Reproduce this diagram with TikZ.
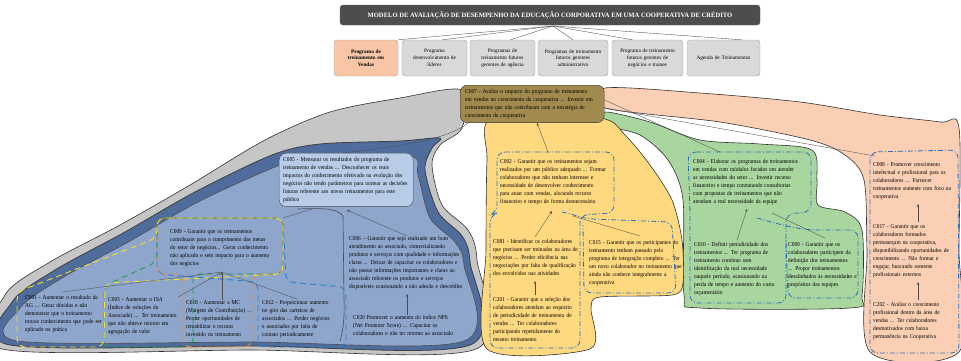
\documentclass[tikz,border=0pt]{standalone}
\usepackage{fontspec}
\setmainfont{Liberation Serif}
\newfontfamily\nf[FakeStretch=0.9]{Liberation Serif}
\usetikzlibrary{arrows.meta}
\definecolor{titlegray}{HTML}{4D4D4D}
\definecolor{boxgray}{HTML}{D9D9D9}
\definecolor{boxsalmon}{HTML}{F8C6A6}
\definecolor{olive}{HTML}{A08A4E}
\definecolor{blobgray}{HTML}{C6C6C6}
\definecolor{blueout}{HTML}{4E6C9C}
\definecolor{bluein}{HTML}{8FA6CC}
\definecolor{bluelight}{HTML}{B8CCE8}
\definecolor{yel}{HTML}{FFD97F}
\definecolor{grn}{HTML}{A8D69E}
\definecolor{sal}{HTML}{FBCFB4}
\definecolor{dashblue}{HTML}{2A6FC0}
\definecolor{dyel}{HTML}{F2E12A}
\definecolor{dgrn}{HTML}{1FA04A}
\definecolor{dora}{HTML}{F08A3A}
\definecolor{dblu}{HTML}{2A80D0}
\newcommand\jl[1]{\makebox[\hsize][s]{#1}\\}
\begin{document}
\begin{tikzpicture}[x=1pt,y=-1pt,
  txt/.style={font=\nf\fontsize{6}{8}\selectfont, align=left, inner sep=0pt, text width=#1, anchor=north west},
  topbox/.style={draw=gray!70, fill=boxgray, rounded corners=3pt, minimum height=36pt, inner sep=2pt, font=\fontsize{5.3}{6.8}\selectfont, align=center},
  blob/.style={draw=black!80, line width=0.6pt},
  conn/.style={draw=black!70, line width=0.35pt},
  arr/.style={conn, -{Stealth[length=3pt,width=2.5pt]}},
  dd/.style={draw=dashblue, line width=0.8pt, dash pattern=on 5pt off 2pt on 1pt off 2pt, rounded corners=8pt},
  grp/.style={line width=0.9pt, dash pattern=on 6pt off 4pt, rounded corners=8pt}
]
\useasboundingbox (0,0) rectangle (961,360);
\fill[white] (0,0) rectangle (961,360);
% title
\node[fill=titlegray, draw=black!60, rounded corners=3pt, minimum width=420pt, minimum height=20pt, text=white, font=\fontsize{6.6}{7.5}\selectfont\bfseries] (title) at (550,15) {MODELO DE AVALIAÇÃO DE DESEMPENHO DA EDUCAÇÃO CORPORATIVA EM UMA COOPERATIVA DE CRÉDITO};
\coordinate (hub) at (553,26);
\node[topbox, fill=boxsalmon, minimum width=64pt, text width=56pt, font=\fontsize{5.3}{6.8}\selectfont\bfseries] (b1) at (366,58) {Programa de\\ treinamento em\\ Vendas};
\node[topbox, minimum width=65pt, text width=60pt] (b2) at (434.5,58) {Programa\\ desenvolvimento de\\ líderes};
\node[topbox, minimum width=65pt, text width=60pt] (b3) at (502.5,58) {Programas de\\ treinamento futuros\\ gerentes de agência};
\node[topbox, minimum width=70pt, text width=66pt] (b4) at (573,58) {Programas de treinamento\\ futuros gerentes\\ administrativo};
\node[topbox, minimum width=71pt, text width=67pt] (b5) at (647.5,58) {Programa de treinamento\\ futuros gerentes de\\ negócios e trainee};
\node[topbox, minimum width=73pt, text width=68pt] (b6) at (723.5,58) {Agenda de Treinamentos};
\draw[conn] (hub) -- (b1.north east);
\draw[conn] (hub) -- ([xshift=8pt]b2.north);
\draw[conn] (hub) -- ([xshift=8pt]b3.north);
\draw[conn] (hub) -- (b4.north);
\draw[conn] (hub) -- ([xshift=-15pt]b5.north);
\draw[conn] (hub) -- ([xshift=18pt]b6.north);

% blobs
\draw[blob, fill=blobgray] plot[smooth cycle, tension=0.5] coordinates {(462,90) (400,98) (330,112) (265,140) (190,185) (120,225) (50,262) (5,295) (2,349) (250,350) (476,349) (477,260) (468,230) (442,205) (432,165) (440,145) (462,128)};
\draw[blob, fill=blueout, draw=black!75, line width=0.8pt] plot[smooth cycle, tension=0.5] coordinates {(440,138) (400,141) (320,144) (272,155) (195,192) (125,232) (55,270) (12,302) (10,345) (250,346) (470,345) (470,262) (462,236) (438,212) (425,170) (432,148)};
\draw[blob, fill=bluein, draw=black!70] plot[smooth cycle, tension=0.5] coordinates {(410,156) (320,155) (280,165) (200,201) (130,241) (62,278) (20,308) (18,341) (250,342) (464,341) (464,265) (455,242) (430,218) (418,175)};
\draw[blob, draw=black!70, line width=0.6pt] (298,209) .. controls (320,208) and (338,208) .. (343,216) -- (344,300) .. controls (345,320) and (342,335) .. (340,341);
\draw[blob, fill=sal] plot[smooth cycle, tension=0.5] coordinates {(605,88) (700,93) (800,102) (880,115) (940,122) (959,128) (959,250) (959,352) (870,352) (867,250) (864,180) (845,155) (810,140) (720,122) (605,108)};
\draw[blob, fill=grn] plot[smooth cycle, tension=0.5] coordinates {(605,112) (650,122) (700,140) (760,144) (812,150) (817,180) (818,205) (845,212) (862,230) (862,295) (850,308) (700,308) (684,295) (683,200) (668,160) (640,135) (605,125)};
\draw[blob, fill=yel] plot[smooth cycle, tension=0.45] coordinates {(492,118) (600,118) (625,135) (650,165) (672,200) (682,240) (683,283) (672,295) (600,297) (591,308) (590,349) (487,349) (486,250) (487,160)};

% C007
\node[draw=black!80, fill=olive, rounded corners=7pt, txt=134, inner xsep=5pt, inner ysep=4pt] (c007) at (460,85) {\jl{C007 - Avaliar o impacto do programa de treinamento}\jl{em vendas no crescimento da cooperativa ... Investir em}\jl{treinamentos que não contribuam com a estratégia de}crescimento da cooperativa};

% gray/blue branch
\node[draw=black!70, fill=bluelight, rounded corners=7pt, txt=126, inner sep=4pt] (c005) at (279,153) {\jl{C005 - Mensurar os resultados do programa de}\jl{treinamento de vendas ... Desconhecer os reais}\jl{impactos do conhecimento efetivado na evolução dos}\jl{negócios não tendo parâmetros para nortear as decisões}\jl{futuras referente aos novos treinamentos para este}público};
\node[txt=114] (c006) at (349,236) {\jl{C006 – Garantir que seja realizado um bom}\jl{atendimento ao associado, comercializando}\jl{produtos e serviços com qualidade e informações}\jl{claras ... Deixar de capacitar os colaboradores e}\jl{não passar informações importantes e claras ao}\jl{associado referente os produtos e serviços}disponíveis ocasionando a não adesão e descrédito};
\node[txt=113] (c020) at (353,315) {\jl{C020 Promover o aumento do índice NPS}\jl{(Net Promoter Score) ... Capacitar os}\jl{colaboradores e não ter retorno ao associado}};
\node[txt=86] (c009) at (170,229) {\jl{C009 - Garantir que os treinamentos}\jl{contribuam para o cumprimento das metas}\jl{do setor de negócios... Gerar conhecimento}\jl{não aplicado e sem impacto para o aumento}dos negócios};
\node[txt=78] (c001) at (25,295) {\jl{C001 - Aumentar o resultado da}\jl{AG ... Gerar dúvidas e não}\jl{demonstrar que o treinamento}\jl{trouxe conhecimento que pode ser}aplicado na prática};
\node[txt=72] (c003) at (108,297) {\jl{C003 - Aumentar o ISA}\jl{(Índice de soluções do}\jl{Associado) ... Ter treinamento}\jl{que não obteve retorno em}agregação de valor};
\node[txt=66] (c018) at (186,300) {\jl{C018 - Aumentar a MC}\jl{(Margem de Contribuição) ...}\jl{Perder oportunidades de}\jl{rentabilizar o recurso}investido no treinamento};
\node[txt=72] (c012) at (262,300) {\jl{C012 - Proporcionar aumento}\jl{no giro das carteiras de}\jl{associados ... Perder negócios}\jl{e associados por falta de}contato periodicamente};
% group outlines
\draw[grp, draw=dblu] (157,218) -- (283,218) -- (286,282) -- (346,287) -- (346,347) -- (258,347) -- (258,282) -- (157,274) -- cycle;
\draw[grp, draw=dgrn, dash phase=3pt] (157,218) -- (283,218) -- (283,274) -- (193,274) -- (193,347) -- (104,347) -- (104,286) -- (157,262) -- cycle;
\draw[grp, draw=dora, dash phase=6pt] (157,218) -- (283,218) -- (283,274) -- (252,274) -- (252,347) -- (183,347) -- (183,274) -- (157,274) -- cycle;
\draw[grp, draw=dyel, dash phase=9pt] (157,218) -- (283,218) -- (283,274) -- (105,283) -- (104,347) -- (17,347) -- (17,292) -- (157,238) -- cycle;
\coordinate (h9) at (222,272);
\draw[arr] (c018.north -| h9) -- (h9);
\draw[conn] (62,292) -- (h9);
\draw[conn] (178,297) -- (h9);
\draw[conn] (297,299) -- (h9);
\draw[conn] (283,218) -- (312,209);
\draw[arr] (407,236) -- (347,210);
\draw[arr] (c020.north -| 407,0) -- (407,294);
\draw[conn] (343,153) .. controls (410,145) and (450,138) .. (468,123);

% yellow branch
\node[txt=110] (c002) at (500,159) {\jl{C002 - Garantir que os treinamentos sejam}\jl{realizados por um público adequado ... Formar}\jl{colaboradores que não tenham interesse e}\jl{necessidade de desenvolver conhecimento}\jl{para atuar com vendas, alocando recurso}financeiro e tempo de forma desnecessária};
\node[txt=87] (c081) at (493,239) {\jl{C081 - Identificar os colaboradores}\jl{que precisam ser treinados na área de}\jl{negócios ... Perder eficiência nas}\jl{negociações por falta de qualificação}dos envolvidos nas atividades};
\node[txt=80] (c015) at (589,240) {\jl{C015 - Garantir que os participantes do}\jl{treinamento tenham passado pelo}\jl{programa de integração completo ... Ter}\jl{um novo colaborador no treinamento que}\jl{ainda não conhece integralmente a}cooperativa};
\node[txt=87] (c201) at (493,297) {\jl{C201 - Garantir que a seleção dos}\jl{colaboradores atendam ao requisito}\jl{de periodicidade de treinamento de}\jl{vendas ... Ter colaboradores}\jl{participando repetidamente do}mesmo treinamento};
\draw[dd] (497,152) -- (614,152) -- (614,213) -- (580,215) -- (580,348) -- (490,348) -- (490,215) -- (497,213) -- cycle;
\draw[dd] (562,212) .. controls (572,214) and (580,217) .. (590,219) -- (672,222) -- (676,293) -- (584,293) -- (583,225);
\draw[arr] (548,152) -- (537,123);
\draw[arr] (535,237) -- (552,211);
\draw[conn] (640,236) -- (573,216);
\draw[arr] (535,295) -- (535,281);

% green branch
\node[txt=108] (c004) at (693,159) {\jl{C004 - Elaborar os programas de treinamentos}\jl{em vendas com módulos focados em atender}\jl{as necessidades do setor ... Investir recurso}\jl{financeiro e tempo contratando consultorias}\jl{com propostas de treinamentos que não}atendam a real necessidade da equipe};
\node[txt=86] (c010) at (694,242) {\jl{C010 - Definir periodicidade dos}\jl{treinamentos ... Ter programa de}\jl{treinamento contínuo sem}\jl{identificação da real necessidade}\jl{naquele período, ocasionando na}\jl{perda de tempo e aumento do custo}orçamentário};
\node[txt=70] (c019) at (788,242) {\jl{C009 - Garantir que os}\jl{colaboradores participem da}\jl{definição dos treinamentos}\jl{... Propor treinamentos}\jl{desalinhados às necessidades e}propósitos das equipes};
\draw[dd] (688,152) -- (811,152) -- (811,212) -- (786,214) -- (786,303) -- (690,303) -- (690,212) -- cycle;
\draw[dd] (757,218) .. controls (780,225) and (800,229) .. (815,230) -- (858,230) -- (858,298) -- (788,298) -- (786,240);
\draw[arr] (737,240) -- (747,209);
\draw[conn] (825,238) -- (772,213);
\draw[conn] (720,152) -- ([yshift=4pt]c007.east);

% salmon branch
\node[txt=85] (c008) at (873,162) {\jl{C008 - Promover crescimento}\jl{intelectual e profissional para os}\jl{colaboradores ... Fornecer}\jl{treinamentos somente com foco na}cooperativa};
\node[txt=85] (c017) at (873,224) {\jl{C017 - Garantir que os}\jl{colaboradores formados}\jl{permaneçam na cooperativa,}\jl{disponibilizando oportunidades de}\jl{crescimento ... Não formar e}\jl{engajar, buscando somente}profissionais externos};
\node[txt=85] (c202) at (873,302) {\jl{C202 - Avaliar o crescimento}\jl{profissional dentro da área de}\jl{vendas ... Ter colaboradores}\jl{desmotivados com baixa}permanência na Cooperativa};
\draw[dd] (870,152) -- (958,150) -- (959,353) -- (870,353) -- cycle;
\draw[arr] (918,222) -- (918,204);
\draw[arr] (918,300) -- (918,282);
\draw[conn] (875,156) -- ([yshift=-4pt]c007.east);
\end{tikzpicture}
\end{document}
